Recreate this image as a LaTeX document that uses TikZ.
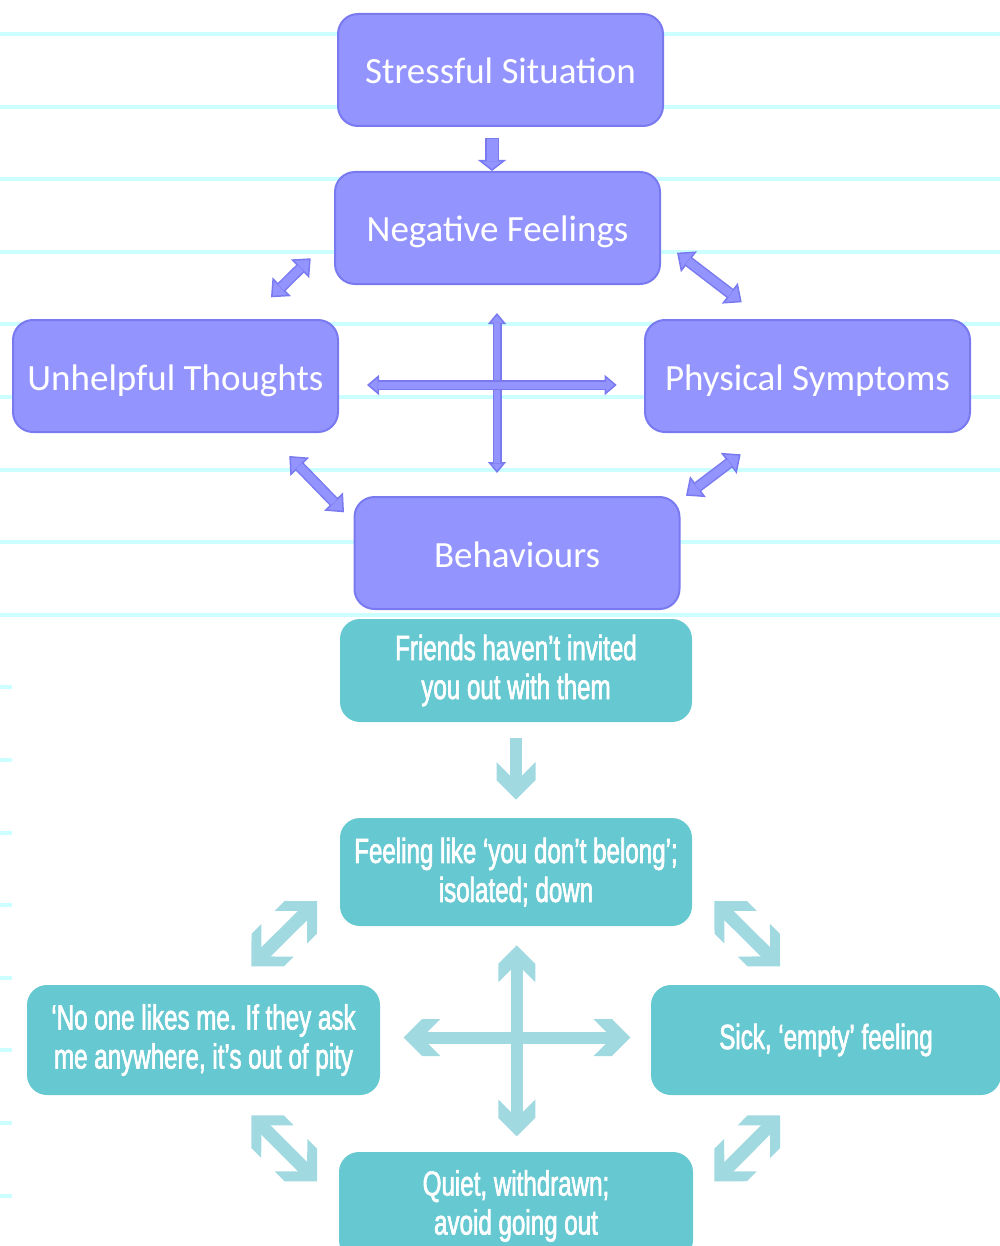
\documentclass[tikz,border=0pt]{standalone}
\usepackage{fontspec}
\setmainfont{Carlito}
\newfontfamily\lowfont[FakeStretch=0.69, FakeBold=1.8]{Liberation Sans}
\usetikzlibrary{arrows.meta}

\definecolor{pfill}{RGB}{148,148,255}
\definecolor{pline}{RGB}{122,122,240}
\definecolor{tfill}{RGB}{102,200,208}
\definecolor{tarrc}{RGB}{160,217,224}
\definecolor{rulec}{RGB}{204,255,255}

% chevron head of the teal arrows
\pgfdeclarearrow{
  name = Chev,
  defaults = {length = 9pt, inset = 9pt},
  setup code = {
    \pgfarrowssettipend{0pt}
    \pgfarrowssetlineend{-\pgfarrowinset}
    \pgfarrowssetbackend{-\pgfarrowlength}
    \pgfarrowssavethe\pgfarrowlength
    \pgfarrowssavethe\pgfarrowinset
  },
  drawing code = {
    \pgfpathmoveto{\pgfpointorigin}
    \pgfpathlineto{\pgfqpoint{-\pgfarrowlength}{\pgfarrowlength}}
    \pgfpathlineto{\pgfpoint{-\pgfarrowlength-\pgfarrowinset}{\pgfarrowlength}}
    \pgfpathlineto{\pgfqpoint{-\pgfarrowinset}{0pt}}
    \pgfpathlineto{\pgfpoint{-\pgfarrowlength-\pgfarrowinset}{-\pgfarrowlength}}
    \pgfpathlineto{\pgfqpoint{-\pgfarrowlength}{-\pgfarrowlength}}
    \pgfpathclose
    \pgfusepathqfill
  },
  parameters = {\the\pgfarrowlength,\the\pgfarrowinset},
}

\tikzset{
  pbox/.style={draw=pline, line width=1pt, fill=pfill, rounded corners=10pt,
    minimum width=162.5pt, minimum height=56pt, text=white,
    text height=15.5pt, text depth=1.5pt,
    font=\fontsize{18.5pt}{22pt}\selectfont},
  tbox/.style={fill=tfill, rounded corners=10pt, minimum width=176pt,
    minimum height=54pt, text=white, align=center, inner sep=0pt,
    font=\lowfont\fontsize{17.5pt}{19.5pt}\selectfont},
  ruled/.style={draw=rulec, line width=2pt},
  parr/.style n args={3}{draw=pline, line width=#1,
    {Triangle[fill=pfill, line width=0.75pt, width=#2, length=#3]}-{Triangle[fill=pfill, line width=0.75pt, width=#2, length=#3]},
    postaction={draw=pfill, line width=#1-1.5pt, arrows=-, shorten <=#3-0.5pt, shorten >=#3-0.5pt}},
  pone/.style n args={3}{draw=pline, line width=#1,
    -{Triangle[fill=pfill, line width=0.75pt, width=#2, length=#3]},
    postaction={draw=pfill, line width=#1-1.5pt, arrows=-, shorten <=0.75pt, shorten >=#3-0.5pt}},
  tarr/.style n args={3}{tarrc, line width=#1, -{Chev[length=#2, inset=#3]}},
  tdbl/.style n args={3}{tarrc, line width=#1, {Chev[length=#2, inset=#3]}-{Chev[length=#2, inset=#3]}},
}

\begin{document}
\begin{tikzpicture}[x=0.5pt, y=-0.5pt]
  \useasboundingbox (0,0) rectangle (1000,1246);

  % ruled paper behind
  \foreach \k in {0,...,8}
    \draw[ruled] (0,34+72.6*\k) -- (1000,34+72.6*\k);
  \foreach \k in {9,...,16}
    \draw[ruled] (0,34+72.6*\k) -- (12,34+72.6*\k);

  % hot cross bun, general
  \node[pbox] (situation) at (500.5,70) {Stressful Situation};
  \node[pbox] (negfeel) at (497.5,228) {Negative Feelings};
  \node[pbox] (thoughts) at (175.5,376) {Unhelpful Thoughts};
  \node[pbox] (physical) at (807.5,376) {Physical Symptoms};
  \node[pbox] (behave) at (517,553) {Behaviours};

  \draw[pone={7pt}{14pt}{5.5pt}] ([shift={(-8.5,11)}]situation.south) -- ([shift={(-5.5,0)}]negfeel.north);
  \draw[parr={5.5pt}{13pt}{7.5pt}] ([shift={(-23.3,-26.7)}]negfeel.south west) -- ([shift={(-68,-21.7)}]thoughts.north east);
  \draw[parr={5.5pt}{13pt}{7.5pt}] ([shift={(16,-32.3)}]negfeel.south east) -- ([shift={(97.7,-16.7)}]physical.north west);
  \draw[parr={5.5pt}{13pt}{7.5pt}] ([shift={(-49.7,23)}]thoughts.south east) -- ([shift={(-9.5,16.3)}]behave.north west);
  \draw[parr={5.5pt}{13pt}{7.5pt}] ([shift={(96.7,21.3)}]physical.south west) -- ([shift={(5.5,-0.3)}]behave.north east);
  \draw[parr={4.5pt}{9pt}{5.5pt}] ([shift={(-0.5,28)}]negfeel.south) -- ([shift={(-20,-23)}]behave.north);
  \draw[parr={5pt}{10pt}{6pt}] ([shift={(28,9)}]thoughts.east) -- ([shift={(-27.3,9)}]physical.west);

  % worked example
  \node[tbox, minimum height=51.5pt] (friends) at (516,670.5) {Friends haven’t invited\\you out with them};
  \node[tbox] (feeling) at (516,872) {Feeling like ‘you don’t belong’;\\isolated; down};
  \node[tbox, minimum width=176.5pt, minimum height=55pt] (noone) at (203.5,1040) {‘No one likes me. If they ask\\me anywhere, it’s out of pity};
  \node[tbox, minimum width=175pt, minimum height=55pt] (sick) at (826,1040) {Sick, ‘empty’ feeling};
  \node[tbox, minimum width=177pt] (quiet) at (516,1206) {Quiet, withdrawn;\\avoid going out};

  \draw[tarr={6pt}{9.75pt}{9pt}] ([shift={(0,16)}]friends.south) -- ([shift={(0,-18)}]feeling.north);
  \draw[tdbl={6.5pt}{11.5pt}{7pt}] ([shift={(-22.5,-25.3)}]feeling.south west) -- ([shift={(47.9,-18.3)}]noone.north);
  \draw[tdbl={6.5pt}{11.5pt}{7pt}] ([shift={(22,-25.3)}]feeling.south east) -- ([shift={(-46,-18.3)}]sick.north);
  \draw[tdbl={6.5pt}{11.5pt}{7pt}] ([shift={(47.9,20)}]noone.south) -- ([shift={(-21.5,29.7)}]quiet.north west);
  \draw[tdbl={6.5pt}{11.5pt}{7pt}] ([shift={(-46,20)}]sick.south) -- ([shift={(21,29.7)}]quiet.north east);
  \draw[tdbl={6pt}{9.25pt}{9.15pt}] ([shift={(0.8,19)}]feeling.south) -- ([shift={(0.8,-15.3)}]quiet.north);
  \draw[tdbl={6pt}{9.25pt}{9.15pt}] ([shift={(23.2,-2.5)}]noone.east) -- ([shift={(-20.3,-2.5)}]sick.west);
\end{tikzpicture}
\end{document}
